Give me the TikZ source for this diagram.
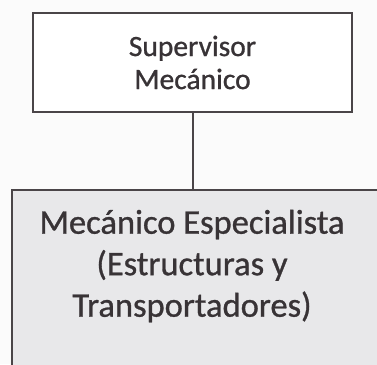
\documentclass[tikz,border=0pt]{standalone}
\usepackage{fontspec}
\setmainfont{Carlito}
\newfontfamily\heavyfont{Carlito}[FakeBold=0.9]
\definecolor{edgecol}{HTML}{4A4548}
\definecolor{txtcol}{HTML}{383336}
\definecolor{boxfill}{HTML}{E8E8EA}
\definecolor{bgcol}{HTML}{FBFBFB}
\tikzset{
  topbox/.style={draw=edgecol, line width=2pt, fill=white, minimum width=319pt, minimum height=99pt, inner sep=0pt, text=txtcol, align=center, font=\heavyfont\fontsize{29.5}{33}\selectfont},
  lowbox/.style={draw=edgecol, line width=2pt, fill=boxfill, minimum width=380pt, minimum height=200pt, inner sep=0pt},
  lowtext/.style={text=txtcol, align=center, inner sep=0pt, font=\heavyfont\fontsize{34.5}{41.5}\selectfont},
  link/.style={draw=edgecol, line width=2pt}
}
\begin{document}
\begin{tikzpicture}[x=1pt,y=-1pt]
\useasboundingbox (0,0) rectangle (377,364);
\fill[bgcol] (0,0) rectangle (377,364);
\clip (0,0) rectangle (377,364);
\node[topbox] (sup) at (192.5,62.5) {Supervisor\\Mecánico};
\node[lowbox] (mec) at (202,290) {};
\node[lowtext] (mectext) at (192,266) {Mecánico Especialista\\(Estructuras y\\Transportadores)};
\draw[link] (sup.south) -- (sup.south |- mec.north);
\end{tikzpicture}
\end{document}
